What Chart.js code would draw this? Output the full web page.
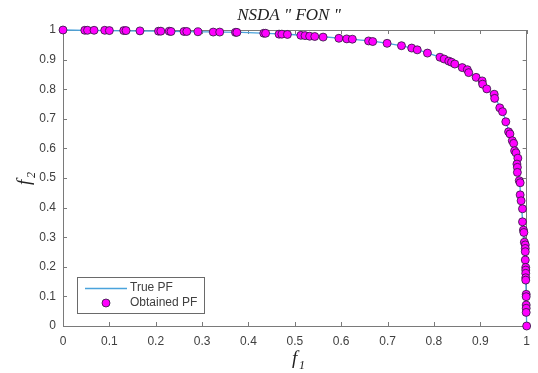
<!DOCTYPE html>
<html>
<head>
<meta charset="utf-8">
<script src="https://cdn.jsdelivr.net/npm/chart.js@4.4.1/dist/chart.umd.min.js"></script>
<style>
html,body{margin:0;padding:0;background:#fff;}
#wrap{width:538px;height:373px;position:relative;}
</style>
</head>
<body>
<div id="wrap"><canvas id="c" width="538" height="373"></canvas></div>
<script>
// ---- data ----
const trueF1 = [0, 0.1, 0.2, 0.3, 0.4, 0.5, 0.6, 0.65, 0.7, 0.75, 0.8, 0.85, 0.88, 0.9, 0.92, 0.94, 0.95, 0.96, 0.97, 0.98, 0.985, 0.99, 0.995, 0.998, 0.999, 1.0];
const trueF2 = [1.0, 0.998, 0.996, 0.994, 0.991, 0.984, 0.972, 0.965, 0.955, 0.940, 0.915, 0.882, 0.852, 0.826, 0.792, 0.748, 0.715, 0.665, 0.605, 0.53, 0.48, 0.38, 0.28, 0.17, 0.08, 0.0];

const obtF1 = [0, 0.047, 0.053, 0.067, 0.09, 0.10, 0.131, 0.136, 0.166, 0.206, 0.211, 0.229, 0.233, 0.261, 0.267, 0.291, 0.324, 0.338, 0.372, 0.375,
  0.433, 0.437, 0.466, 0.472, 0.484, 0.513, 0.522, 0.532, 0.543, 0.561, 0.595, 0.612, 0.624, 0.659, 0.668, 0.699, 0.730, 0.752, 0.764, 0.786,
  0.813, 0.822, 0.832, 0.838, 0.845, 0.861, 0.872, 0.875, 0.891, 0.904, 0.905, 0.914, 0.930, 0.931, 0.942, 0.948, 0.955, 0.961, 0.964, 0.969,
  0.972, 0.974, 0.977, 0.981, 0.979, 0.980, 0.980, 0.984, 0.986, 0.986, 0.988, 0.991, 0.991, 0.993, 0.994, 0.995, 0.997, 0.997, 0.997, 0.997,
  0.998, 0.998, 0.998, 0.998, 0.998, 0.999, 0.999, 0.999, 0.999, 0.999, 1.0];
const obtF2 = [1.0, 0.999, 0.999, 0.999, 0.999, 0.998, 0.998, 0.998, 0.997, 0.996, 0.996, 0.996, 0.995, 0.995, 0.995, 0.994, 0.993, 0.993, 0.992, 0.992,
  0.989, 0.989, 0.986, 0.986, 0.985, 0.982, 0.981, 0.979, 0.978, 0.976, 0.972, 0.970, 0.969, 0.963, 0.961, 0.955, 0.947, 0.939, 0.933, 0.922,
  0.908, 0.902, 0.895, 0.891, 0.885, 0.873, 0.866, 0.856, 0.840, 0.828, 0.817, 0.801, 0.783, 0.769, 0.737, 0.724, 0.690, 0.656, 0.649, 0.626,
  0.617, 0.592, 0.585, 0.567, 0.547, 0.536, 0.519, 0.491, 0.484, 0.443, 0.423, 0.396, 0.352, 0.324, 0.316, 0.283, 0.274, 0.262, 0.251, 0.223,
  0.198, 0.189, 0.178, 0.163, 0.155, 0.107, 0.099, 0.071, 0.060, 0.046, 0.0];

const tickLabels = ['0', '0.1', '0.2', '0.3', '0.4', '0.5', '0.6', '0.7', '0.8', '0.9', '1'];
const seriesNames = ['True PF', 'Obtained PF'];
const titleText = 'NSDA " FON "';

// ---- styles ----
const LINE_COLOR = '#4aa3dc';
const PT_FILL = '#ff00ff';
const PT_EDGE = '#2a1a3a';
const AXIS_COLOR = '#7a7a7a';
const TEXT_COLOR = '#404040';

const truePts = trueF1.map((x, i) => ({x: x, y: trueF2[i]}));
const obtPts = obtF1.map((x, i) => ({x: x, y: obtF2[i]}));

const decor = {
  id: 'decor',
  beforeDatasetsDraw(chart) {
    const ctx = chart.ctx;
    const a = chart.chartArea;
    const xs = chart.scales.x, ys = chart.scales.y;
    ctx.save();
    ctx.strokeStyle = AXIS_COLOR;
    ctx.lineWidth = 1;
    ctx.strokeRect(Math.round(a.left) + 0.5, Math.round(a.top) + 0.5, Math.round(a.right - a.left) - 1, Math.round(a.bottom - a.top));
    const tl = 4;
    ctx.beginPath();
    for (let i = 0; i < tickLabels.length; i++) {
      const v = i / 10;
      const px = Math.round(xs.getPixelForValue(v)) + 0.5;
      ctx.moveTo(px, a.bottom); ctx.lineTo(px, a.bottom - tl);
      ctx.moveTo(px, a.top); ctx.lineTo(px, a.top + tl);
      const py = Math.round(ys.getPixelForValue(v)) + 0.5;
      ctx.moveTo(a.left, py); ctx.lineTo(a.left + tl, py);
      ctx.moveTo(a.right, py); ctx.lineTo(a.right - tl, py);
    }
    ctx.stroke();
    ctx.restore();
  },
  afterDatasetsDraw(chart) {
    const ctx = chart.ctx;
    ctx.save();
    ctx.fillStyle = '#222';
    ctx.font = 'italic 17px "Liberation Serif", "DejaVu Serif", serif';
    ctx.textAlign = 'center';
    ctx.textBaseline = 'alphabetic';
    ctx.fillText(titleText, 289, 20);

    ctx.font = 'italic 19px "Liberation Serif", serif';
    ctx.textAlign = 'left';
    ctx.fillText('f', 292, 364);
    ctx.font = 'italic 12px "Liberation Serif", serif';
    ctx.fillText('1', 299, 369);

    ctx.save();
    ctx.translate(30, 185);
    ctx.rotate(-Math.PI / 2);
    ctx.font = 'italic 19px "Liberation Serif", serif';
    ctx.textAlign = 'left';
    ctx.fillText('f', 0, 0);
    ctx.font = 'italic 12px "Liberation Serif", serif';
    ctx.fillText('2', 7, 5);
    ctx.restore();

    const lx = 77, ly = 277, lw = 127, lh = 36;
    ctx.fillStyle = '#fff';
    ctx.fillRect(lx, ly, lw, lh);
    ctx.strokeStyle = '#6a6a6a';
    ctx.lineWidth = 1;
    ctx.strokeRect(lx + 0.5, ly + 0.5, lw, lh);
    ctx.strokeStyle = LINE_COLOR;
    ctx.lineWidth = 1.5;
    ctx.beginPath();
    ctx.moveTo(85, 288.5); ctx.lineTo(127, 288.5);
    ctx.stroke();
    ctx.beginPath();
    ctx.arc(106, 303, 4, 0, Math.PI * 2);
    ctx.fillStyle = PT_FILL; ctx.fill();
    ctx.strokeStyle = PT_EDGE; ctx.lineWidth = 0.8; ctx.stroke();
    ctx.fillStyle = TEXT_COLOR;
    ctx.font = '12px "Liberation Sans", Arial, sans-serif';
    ctx.textAlign = 'left';
    ctx.textBaseline = 'middle';
    ctx.fillText(seriesNames[0], 130, 288);
    ctx.fillText(seriesNames[1], 130, 303);
    ctx.restore();
  }
};

new Chart(document.getElementById('c'), {
  type: 'scatter',
  data: {
    datasets: [
      {
        label: seriesNames[1],
        data: obtPts,
        showLine: false,
        pointRadius: 4,
        pointBackgroundColor: PT_FILL,
        pointBorderColor: PT_EDGE,
        pointBorderWidth: 0.8,
        clip: false,
        order: 1
      },
      {
        label: seriesNames[0],
        data: truePts,
        showLine: true,
        borderColor: LINE_COLOR,
        borderWidth: 1.3,
        pointRadius: 0,
        cubicInterpolationMode: 'monotone',
        clip: false,
        order: 2
      }
    ]
  },
  options: {
    responsive: false,
    animation: false,
    layout: {padding: {left: 0, right: 8, top: 30, bottom: 0}},
    plugins: {legend: {display: false}, tooltip: {enabled: false}, title: {display: false}},
    scales: {
      x: {
        type: 'linear', min: 0, max: 1,
        grid: {display: false, drawTicks: false},
        border: {display: false},
        ticks: {
          stepSize: 0.1, padding: 8, color: TEXT_COLOR, maxRotation: 0,
          font: {family: '"Liberation Sans", Arial, sans-serif', size: 12},
          callback: (v, i) => tickLabels[i]
        },
        afterFit: s => { s.height = 47; }
      },
      y: {
        type: 'linear', min: 0, max: 1,
        grid: {display: false, drawTicks: false},
        border: {display: false},
        ticks: {
          stepSize: 0.1, padding: 7, color: TEXT_COLOR,
          font: {family: '"Liberation Sans", Arial, sans-serif', size: 12},
          callback: (v, i) => tickLabels[i]
        },
        afterFit: s => { s.width = 63; }
      }
    }
  },
  plugins: [decor]
});
</script>
</body>
</html>
